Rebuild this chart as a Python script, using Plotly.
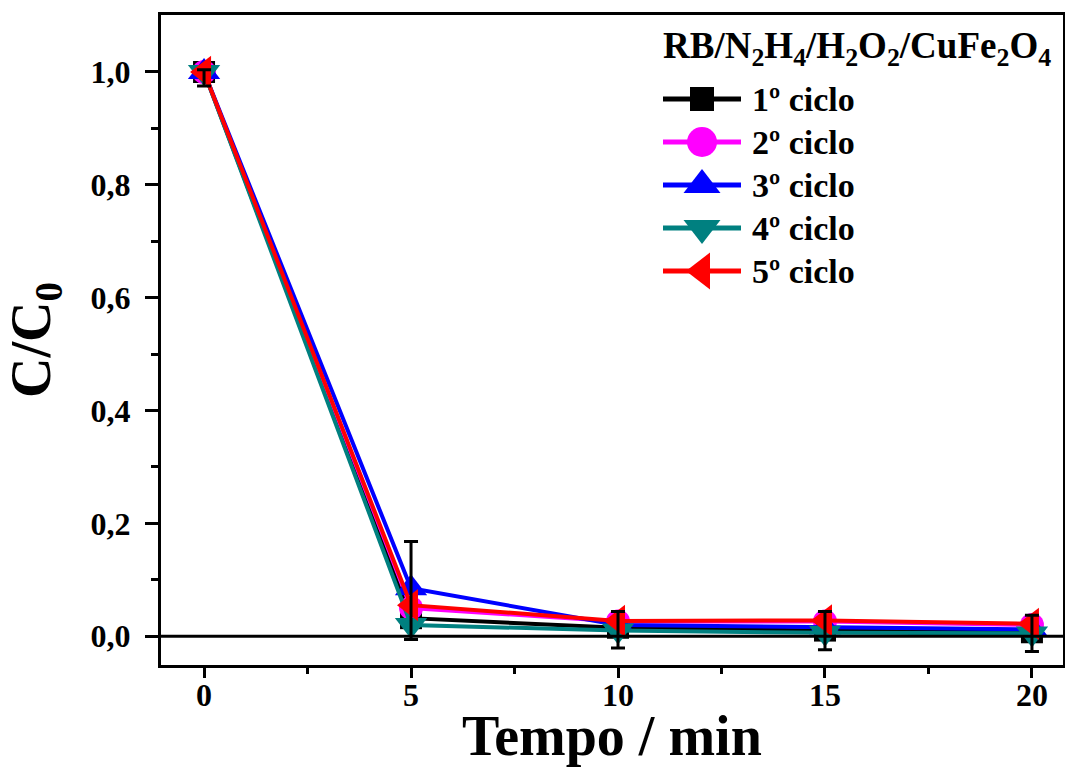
import plotly.graph_objects as go

# Reaction time (min) and normalised concentration C/C0 for each reuse cycle
tempo = [0, 5, 10, 15, 20]
ciclo1 = [1.0, 0.032, 0.015, 0.010, 0.007]
ciclo1_err_mais = [0.004, 0.136, 0.029, 0.034, 0.030]
ciclo1_err_menos = [0.025, 0.038, 0.036, 0.034, 0.034]
ciclo2 = [1.0, 0.050, 0.026, 0.026, 0.020]
ciclo3 = [1.0, 0.085, 0.020, 0.016, 0.012]
ciclo4 = [1.0, 0.020, 0.010, 0.006, 0.005]
ciclo5 = [1.0, 0.055, 0.027, 0.028, 0.022]

nomes = ["1º ciclo", "2º ciclo", "3º ciclo", "4º ciclo", "5º ciclo"]
cores = ["#000000", "#ff00ff", "#0000ff", "#008080", "#ff0000"]
simbolos = ["square", "circle", "triangle-up", "triangle-down", "triangle-left"]
tamanhos = [22, 24, 28, 28, 28]
tamanhos_legenda = [24, 30, 32, 32, 32]
series = [ciclo1, ciclo2, ciclo3, ciclo4, ciclo5]
titulo_legenda = ("<b>RB/N<sub>2</sub>H<sub>4</sub>/H<sub>2</sub>O<sub>2</sub>"
                  "/CuFe<sub>2</sub>O<sub>4</sub></b>")

FONT = "Liberation Serif"

fig = go.Figure()

for nome, cor, simb, tam, ys in zip(nomes, cores, simbolos, tamanhos, series):
    fig.add_trace(go.Scatter(
        x=tempo, y=ys, name=nome, mode="lines+markers", showlegend=False,
        line=dict(color=cor, width=4),
        marker=dict(color=cor, symbol=simb, size=tam, opacity=1, line=dict(width=0)),
    ))

# error bars of the first cycle drawn over every series
fig.add_trace(go.Scatter(
    x=tempo, y=ciclo1, mode="markers", showlegend=False,
    marker=dict(color="rgba(0,0,0,0)", size=1),
    error_y=dict(type="data", symmetric=False, array=ciclo1_err_mais,
                 arrayminus=ciclo1_err_menos, visible=True,
                 color="#000000", thickness=3, width=7),
))

# zero reference line
fig.add_shape(type="line", xref="paper", x0=0, x1=1, yref="y", y0=0, y1=0,
              line=dict(color="black", width=3))

# legend block on an overlay axis measured in pixels of the plot area
leg_x = [663, 702, 741]
leg_y0, leg_dy = 99, 43
for i, (nome, cor, simb, tam) in enumerate(zip(nomes, cores, simbolos, tamanhos_legenda)):
    yy = leg_y0 + i * leg_dy
    fig.add_trace(go.Scatter(
        x=leg_x, y=[yy] * 3, xaxis="x2", yaxis="y2", mode="lines+markers",
        showlegend=False, hoverinfo="skip", cliponaxis=False,
        line=dict(color=cor, width=5),
        marker=dict(color=cor, symbol=simb, size=[0, tam, 0], opacity=1,
                    line=dict(width=0)),
    ))
    fig.add_annotation(x=750, y=yy, xref="x2", yref="y2", xanchor="left",
                       yanchor="middle", showarrow=False, text=f"<b>{nome}</b>",
                       font=dict(family=FONT, size=34, color="black"))
fig.add_annotation(x=661, y=48, xref="x2", yref="y2", xanchor="left",
                   yanchor="middle", showarrow=False, text=titulo_legenda,
                   font=dict(family=FONT, size=37, color="black"))

# x-axis title placed as an annotation under the tick labels
fig.add_annotation(x=0.5, y=-0.109, xref="paper", yref="paper", xanchor="center",
                   yanchor="middle", showarrow=False, text="<b>Tempo / min</b>",
                   font=dict(family=FONT, size=56, color="black"))

fig.update_layout(
    width=1065, height=767,
    margin=dict(l=161, r=2, t=15, b=102, autoexpand=False),
    paper_bgcolor="white", plot_bgcolor="white",
    separators=",.",
    font=dict(family=FONT, color="black"),
    showlegend=False,
    xaxis=dict(
        range=[-1.04, 20.75], tickvals=[0, 5, 10, 15, 20],
        ticks="outside", ticklen=10, tickwidth=2.5, tickcolor="black",
        minor=dict(tickvals=[2.5, 7.5, 12.5, 17.5], ticks="outside",
                   ticklen=6, tickwidth=2.5, tickcolor="black"),
        showline=True, linewidth=3, linecolor="black", mirror=True,
        showgrid=False, zeroline=False, ticklabelstandoff=-10, automargin=False,
        tickfont=dict(family=FONT, size=32, color="black", weight="bold"),
    ),
    yaxis=dict(
        range=[-0.051, 1.101], tickvals=[0, 0.2, 0.4, 0.6, 0.8, 1.0],
        tickformat=".1f",
        ticks="outside", ticklen=13, tickwidth=2.5, tickcolor="black",
        minor=dict(tickvals=[0.1, 0.3, 0.5, 0.7, 0.9], ticks="outside",
                   ticklen=7, tickwidth=2.5, tickcolor="black"),
        showline=True, linewidth=3, linecolor="black", mirror=True,
        showgrid=False, zeroline=False, ticklabelstandoff=8, automargin=False,
        tickfont=dict(family=FONT, size=32, color="black", weight="bold"),
        title=dict(text="<b>C/C<sub>0</sub></b>", standoff=24,
                   font=dict(family=FONT, size=56, color="black")),
    ),
    xaxis2=dict(overlaying="x", anchor="y2", range=[161, 1063], visible=False,
                fixedrange=True),
    yaxis2=dict(overlaying="y", anchor="x2", range=[665, 15], visible=False,
                fixedrange=True),
)

fig.write_html("out.html")
